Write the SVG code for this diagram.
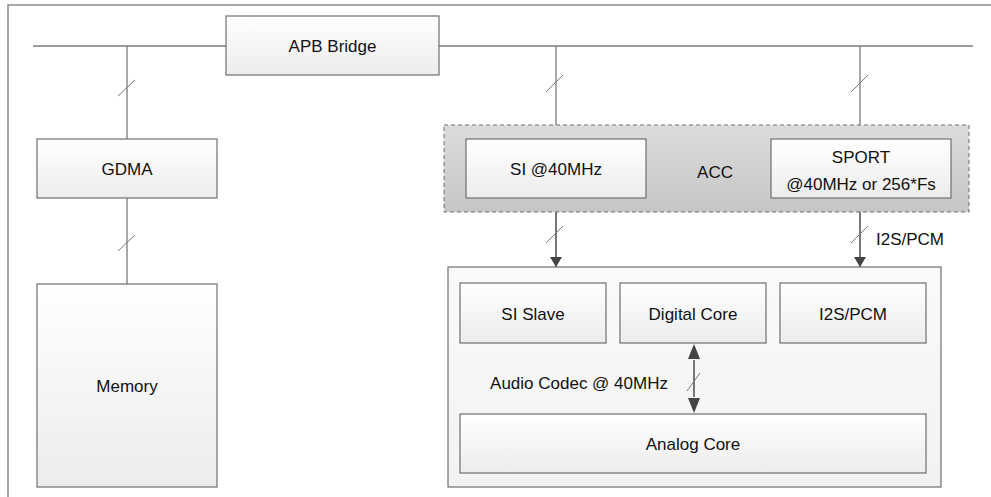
<svg xmlns="http://www.w3.org/2000/svg" width="991" height="497" viewBox="0 0 991 497">
<style>
text{font-family:"Liberation Sans",Arial,sans-serif;font-size:17px;fill:#111;text-anchor:middle;dominant-baseline:central}
.box{fill:url(#g);stroke:#6f6f6f;stroke-width:1.2}
.ln{stroke:#7a7a7a;stroke-width:1.3;fill:none}
.sl{stroke:#7a7a7a;stroke-width:1;fill:none}
.ar{stroke:#555;stroke-width:1.6;fill:none}
</style>
<defs>
<linearGradient id="g" x1="0" y1="0" x2="0" y2="1"><stop offset="0" stop-color="#ffffff"/><stop offset="1" stop-color="#ececec"/></linearGradient>
<linearGradient id="ga" x1="0" y1="0" x2="0" y2="1"><stop offset="0" stop-color="#dcdcdc"/><stop offset="1" stop-color="#c6c6c6"/></linearGradient>
<linearGradient id="gc" x1="0" y1="0" x2="0" y2="1"><stop offset="0" stop-color="#fafafa"/><stop offset="1" stop-color="#f2f2f2"/></linearGradient>
<marker id="ah" viewBox="0 0 10 12" refX="10" refY="6" markerWidth="10" markerHeight="12" markerUnits="userSpaceOnUse" orient="auto"><path d="M0,0 L10,6 L0,12 z" fill="#444"/></marker>
</defs>
<g id="frame"><path d="M8,497 V5 H991" fill="none" stroke="#8a8a8a" stroke-width="1.5"/></g>
<g id="connectors">
<line class="ln" x1="33" y1="46" x2="973" y2="46"/>
<line class="ln" x1="127" y1="46" x2="127" y2="139"/>
<line class="sl" x1="118" y1="96" x2="135" y2="80"/>
<line class="ln" x1="127" y1="198" x2="127" y2="284"/>
<line class="sl" x1="118" y1="251" x2="135" y2="235"/>
<line class="ln" x1="556" y1="46" x2="556" y2="139"/>
<line class="sl" x1="546" y1="92" x2="563" y2="75"/>
<line class="ln" x1="860" y1="46" x2="860" y2="139"/>
<line class="sl" x1="851" y1="92" x2="868" y2="75"/>
<line class="ar" x1="556" y1="212" x2="556" y2="267" marker-end="url(#ah)"/>
<line class="sl" x1="546" y1="243" x2="563" y2="226"/>
<line class="ar" x1="860" y1="212" x2="860" y2="267" marker-end="url(#ah)"/>
<line class="sl" x1="851" y1="243" x2="868" y2="226"/>
<text x="910" y="239">I2S/PCM</text>
</g>
<g id="apb"><rect class="box" x="226" y="16" width="213" height="59"/><text x="332.5" y="46">APB Bridge</text></g>
<g id="gdma"><rect class="box" x="37" y="139" width="180" height="59"/><text x="127" y="169">GDMA</text></g>
<g id="memory"><rect class="box" x="37" y="284" width="180" height="203"/><text x="127" y="386">Memory</text></g>
<g id="acc"><rect x="444" y="125" width="525" height="87" fill="url(#ga)" stroke="#6f6f6f" stroke-width="1" stroke-dasharray="4,3"/><text x="715" y="172">ACC</text></g>
<g id="si"><rect class="box" x="466" y="139" width="180" height="59"/><text x="556" y="169">SI @40MHz</text></g>
<g id="sport"><rect class="box" x="771" y="139" width="180" height="59"/><text x="861" y="157">SPORT</text><text x="861" y="184">@40MHz or 256*Fs</text></g>
<g id="codec"><rect x="448" y="267" width="493" height="220" fill="url(#gc)" stroke="#6f6f6f" stroke-width="1.2"/><text x="579" y="383">Audio Codec @ 40MHz</text></g>
<g id="sislave"><rect class="box" x="460" y="283" width="146" height="60"/><text x="533" y="314">SI Slave</text></g>
<g id="digital"><rect class="box" x="620" y="283" width="146" height="60"/><text x="693" y="314">Digital Core</text></g>
<g id="i2s"><rect class="box" x="780" y="283" width="146" height="60"/><text x="853" y="314">I2S/PCM</text></g>
<g id="analog"><rect class="box" x="460" y="414" width="466" height="59"/><text x="693" y="444">Analog Core</text></g>
<g id="connectors2">
<line class="ar" x1="694" y1="360" x2="694" y2="397"/>
<path d="M694,344 L688,359 L700,359 z" fill="#444"/>
<path d="M694,413 L688,398 L700,398 z" fill="#444"/>
<line class="sl" x1="687" y1="391" x2="700" y2="373"/>
</g>
</svg>
